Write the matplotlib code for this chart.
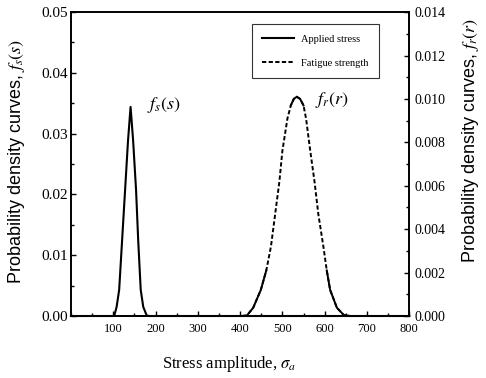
import numpy as np
import matplotlib
matplotlib.use('Agg')
import matplotlib.pyplot as plt
from matplotlib.ticker import MultipleLocator, FormatStrFormatter

plt.rcParams['font.family'] = ['Liberation Serif', 'DejaVu Serif']
plt.rcParams['mathtext.fontset'] = 'stix'

# ----------------------------------------------------------------------
# datos
# ----------------------------------------------------------------------
# tensión aplicada  f_s(s)  (eje izquierdo)
stress_x = [0, 100, 103, 108, 114, 121, 128, 135, 141, 147, 154, 159, 165, 171, 179, 185, 800]
stress_y = [0, 0, 0.0002, 0.0015, 0.0043, 0.0125, 0.0207, 0.0289, 0.0344,
            0.0289, 0.0207, 0.0125, 0.0043, 0.0015, 0.0001, 0, 0]

# resistencia a fatiga  f_r(r)  (eje derecho)
strength_x = [0, 400, 416, 431, 449, 462, 473, 483, 493, 500, 512, 520, 527, 534,
              542, 550, 556, 566, 576, 585, 597, 605, 613, 629, 645, 660, 800]
strength_y = [0, 0, 0.00002, 0.00038, 0.0012, 0.0021, 0.0032, 0.0047, 0.0062, 0.0076,
              0.0091, 0.0097, 0.0100, 0.0101, 0.0100, 0.0097, 0.0091, 0.0076, 0.0062,
              0.0047, 0.0032, 0.0021, 0.0012, 0.00038, 0.00005, 0, 0]

x_ticks = [100, 200, 300, 400, 500, 600, 700, 800]
legend_labels = ['Applied stress', 'Fatigue strength']

fig = plt.figure(figsize=(4.86, 3.78), dpi=100)
ax = fig.add_axes([0.146, 0.164, 0.696, 0.804])
ax2 = ax.twinx()

# curvas
l1, = ax.plot(stress_x, stress_y, 'k-', lw=1.5, clip_on=False, label=legend_labels[0])
sx = np.array(strength_x)
sy = np.array(strength_y)
l2, = ax2.plot(sx, sy, color='k', lw=1.4, dashes=[2.2, 1.2], clip_on=False,
               label=legend_labels[1])
# colas y cresta se ven continuas en el original
ax2.plot(sx, np.ma.masked_where(sy > 0.0022, sy), 'k-', lw=1.4, clip_on=False)
ax2.plot(sx, np.ma.masked_where(sy < 0.0097, sy), 'k-', lw=1.4, clip_on=False)

# ejes
ax.set_xlim(0, 800)
ax.set_ylim(0, 0.05)
ax2.set_ylim(0, 0.014)
ax.set_xticks(x_ticks)
ax.xaxis.set_minor_locator(MultipleLocator(50))
ax.yaxis.set_major_locator(MultipleLocator(0.01))
ax.yaxis.set_minor_locator(MultipleLocator(0.005))
ax.yaxis.set_major_formatter(FormatStrFormatter('%.2f'))
ax2.yaxis.set_major_locator(MultipleLocator(0.002))
ax2.yaxis.set_minor_locator(MultipleLocator(0.001))
ax2.yaxis.set_major_formatter(FormatStrFormatter('%.3f'))

ax.tick_params(axis='x', which='both', direction='in', top=False, pad=5, labelsize=9)
ax.tick_params(axis='y', which='both', direction='in', pad=2, labelsize=11)
ax2.tick_params(axis='y', which='both', direction='in', pad=4, labelsize=10)
for a in (ax, ax2):
    a.tick_params(which='major', length=3.5, width=1)
    a.tick_params(which='minor', length=2, width=1)
    for s in a.spines.values():
        s.set_linewidth(1.2)

ax.set_xlabel(r'Stress amplitude, $\sigma_a$', fontsize=12)
ax.xaxis.set_label_coords(0.467, -0.125)
ax.set_ylabel(r'Probability density curves, $f_s(s)$', fontsize=13,
              family='Liberation Sans')
ax.yaxis.set_label_coords(-0.13, 0.51)
ax2.set_ylabel(r'Probability density curves, $f_r(r)$', fontsize=13,
               family='Liberation Sans')
ax2.yaxis.set_label_coords(1.151, 0.576)

# etiquetas de las curvas
ax.text(180, 0.0347, r'$f_s(s)$', fontsize=13, ha='left', va='center')
ax.text(577, 0.0355, r'$f_r(r)$', fontsize=13, ha='left', va='center')

leg = ax.legend([l1, l2], legend_labels, loc='upper right', bbox_to_anchor=(0.925, 0.977),
                fontsize=7.5, frameon=True, fancybox=False, handlelength=3.1,
                labelspacing=1.4, borderpad=1.0, handletextpad=0.6)
leg.get_frame().set_edgecolor('k')
leg.get_frame().set_linewidth(0.8)

fig.savefig('out.png', dpi=100)
